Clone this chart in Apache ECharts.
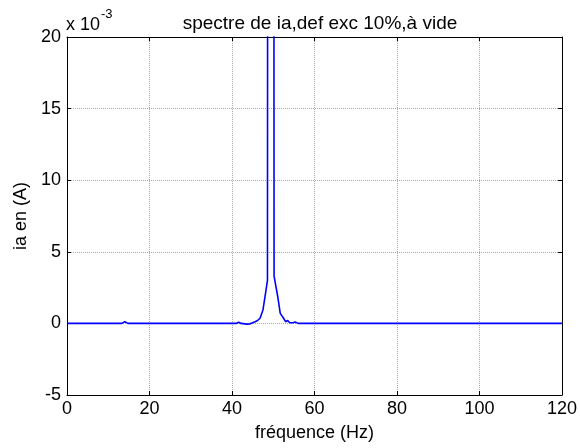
<!DOCTYPE html>
<html>
<head>
<meta charset="utf-8">
<script src="https://cdn.jsdelivr.net/npm/echarts@6/dist/echarts.min.js"></script>
<style>
html,body{margin:0;padding:0;background:#fff;}
#chart{width:580px;height:448px;}
</style>
</head>
<body>
<div id="chart"></div>
<script>
// Spectrum of ia (amplitude in units of 1e-3 A, as on the axis "x 10^-3")
var freqHz = [0, 13.3, 13.7, 14.0, 14.3, 14.8, 41.0, 41.6, 42.2, 43.6, 44.4, 45.0, 45.6, 46.2, 46.8, 47.5, 48.0, 48.6, 49.4, 50.2, 51.1, 51.7, 52.5, 53.0, 53.5, 54.0, 54.4, 54.8, 55.3, 56.0, 120];
var ampmA  = [0, 0,    0.1,  0.12, 0.1,  0,    0,    0.08, 0,    -0.05,-0.03, 0.05, 0.12, 0.2,  0.36, 0.94, 1.86, 3.0,  500,  3.3,  1.86, 0.7,  0.36, 0.12, 0.2,  0.05, 0.15, 0.05, 0.1,  0,    0];
var xTicks = [0, 20, 40, 60, 80, 100, 120];
var yTicks = [-5, 0, 5, 10, 15, 20];

var titleText = 'spectre de ia,def exc 10%,à vide';
var xLabel = 'fréquence (Hz)';
var yLabel = 'ia en (A)';

var FONT = 'Liberation Sans, Arial, sans-serif';
var points = freqHz.map(function (f, i) { return [f, ampmA[i]]; });

var chart = echarts.init(document.getElementById('chart'));
var gridStyle = { show: true, lineStyle: { type: 'dotted', color: '#a8a8a8', width: 1 } };
var axisBase = {
  axisLine: { show: true, onZero: false, lineStyle: { color: '#000', width: 1 } },
  axisTick: { show: true, inside: true, length: 4, lineStyle: { color: '#000' } }
};
chart.setOption({
  animation: false,
  backgroundColor: '#fff',
  title: {
    text: titleText, left: 315, top: 9, textAlign: 'center',
    textStyle: { fontFamily: FONT, fontSize: 19, fontWeight: 'normal', color: '#000' }
  },
  grid: { left: 67, right: 13, top: 37, bottom: 53 },
  xAxis: [
    Object.assign({}, axisBase, {
      type: 'value', min: xTicks[0], max: xTicks[xTicks.length - 1], interval: 20,
      position: 'bottom',
      name: xLabel, nameLocation: 'middle', nameGap: 29,
      nameTextStyle: { fontFamily: FONT, fontSize: 18, color: '#000' },
      axisLabel: { fontFamily: FONT, fontSize: 18, color: '#000', margin: 5 },
      splitLine: gridStyle
    }),
    Object.assign({}, axisBase, {
      type: 'value', min: xTicks[0], max: xTicks[xTicks.length - 1], interval: 20,
      position: 'top', axisLabel: { show: false }, splitLine: { show: false }
    })
  ],
  yAxis: [
    Object.assign({}, axisBase, {
      type: 'value', min: yTicks[0], max: yTicks[yTicks.length - 1], interval: 5,
      position: 'left',
      name: yLabel, nameLocation: 'middle', nameGap: 37, nameRotate: 90,
      nameTextStyle: { fontFamily: FONT, fontSize: 18, color: '#000' },
      axisLabel: { fontFamily: FONT, fontSize: 18, color: '#000', margin: 6 },
      splitLine: gridStyle
    }),
    Object.assign({}, axisBase, {
      type: 'value', min: yTicks[0], max: yTicks[yTicks.length - 1], interval: 5,
      position: 'right', axisLabel: { show: false }, splitLine: { show: false }
    })
  ],
  series: [{
    type: 'line', data: points, xAxisIndex: 0, yAxisIndex: 0,
    showSymbol: false, symbol: 'none', clip: true,
    lineStyle: { color: '#0000ff', width: 1.6 }
  }],
  graphic: [
    { type: 'text', left: 66, top: 16, style: { text: 'x 10', fontFamily: FONT, fontSize: 18, fill: '#000' } },
    { type: 'text', left: 101, top: 8, style: { text: '-3', fontFamily: FONT, fontSize: 13, fill: '#000' } }
  ]
});
</script>
</body>
</html>
